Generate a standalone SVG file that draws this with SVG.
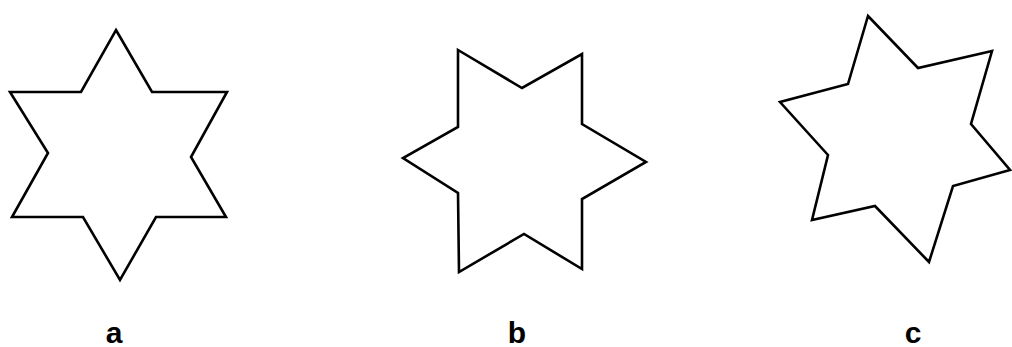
<svg xmlns="http://www.w3.org/2000/svg" width="1012" height="347" viewBox="0 0 1012 347">
<style>
.star{fill:#fff;stroke:#000;stroke-width:2.6;stroke-linejoin:miter}
.lbl{font-family:"Liberation Sans",Arial,sans-serif;font-weight:bold;font-size:30px;fill:#000;text-anchor:middle}
</style>
<rect width="1012" height="347" fill="#fff"/>
<g id="star-a">
<polygon class="star" points="116,30 152,92 227,92 191,157 226,217 156,217 120,280 83,217 12,217 48,153 10,92 81,92"/>
<text class="lbl" x="114" y="343">a</text>
</g>
<g id="star-b">
<polygon class="star" points="458,50 522,88 582,54 582,124 646,162 582,199 582,269 524,234 459,272 458,193 403,158 458,127"/>
<text class="lbl" x="517" y="343">b</text>
</g>
<g id="star-c">
<polygon class="star" points="868,16 918,68 992,51 971,124 1010,170 953,186 929,262 875,206 812,220 828,155 780,102 848,84"/>
<text class="lbl" x="913" y="343">c</text>
</g>
<g id="connectors"/>
</svg>
